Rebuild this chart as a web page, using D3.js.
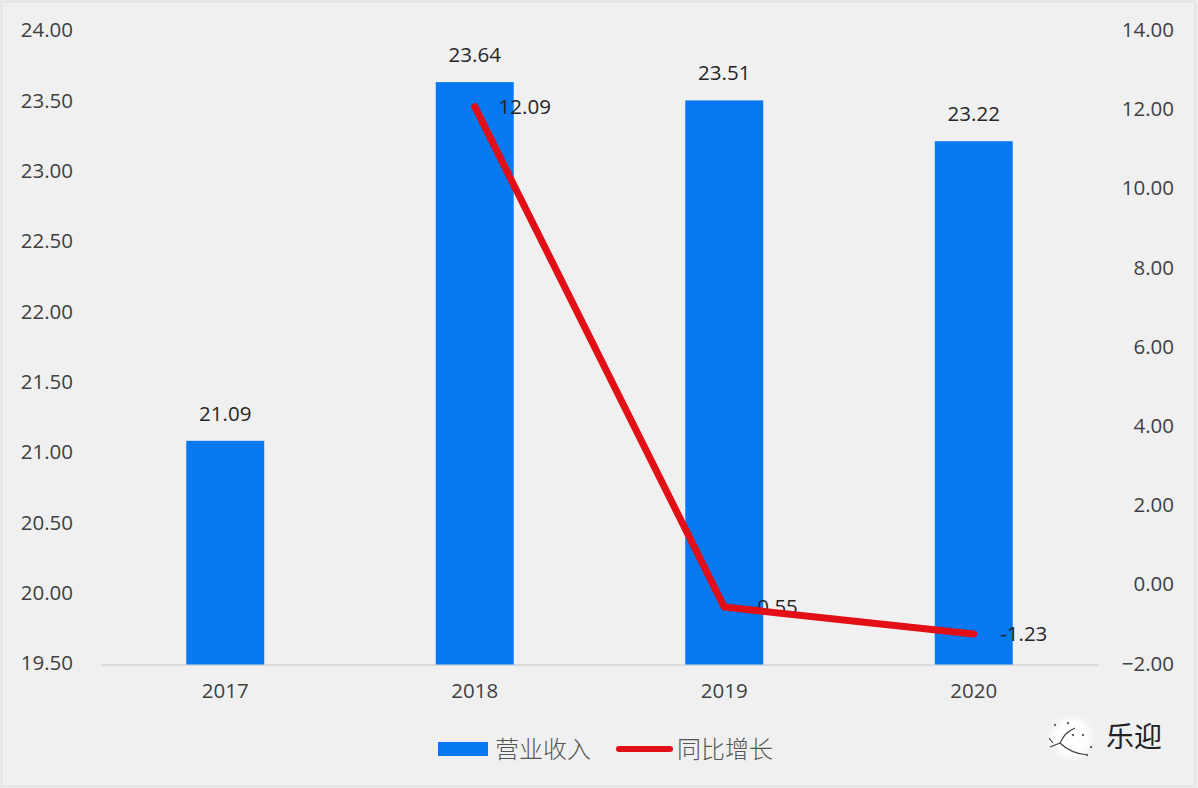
<!DOCTYPE html>
<html><head><meta charset="utf-8">
<script src="https://cdn.jsdelivr.net/npm/d3@7/dist/d3.min.js"></script>
<style>
html,body{margin:0;padding:0;background:#f0f0f1;overflow:hidden}
svg{display:block}
text{font-family:"Open Sans","Noto Sans CJK SC",sans-serif}
</style></head><body>
<svg id="c" width="1198" height="788"></svg>
<script>
const years = ["2017","2018","2019","2020"];
const revenue = [21.09,23.64,23.51,23.22];
const revenueLabels = ["21.09","23.64","23.51","23.22"];
const growth = [null,12.09,-0.55,-1.23];
const growthLabels = ["","12.09","-0.55","-1.23"];
const leftTicks = [19.5,20,20.5,21,21.5,22,22.5,23,23.5,24];
const rightTicks = [-2,0,2,4,6,8,10,12,14];
const legendNames = ["营业收入","同比增长"];
const watermarkText = "乐迎";

const svg = d3.select("#c");
const defs = svg.append("defs");
defs.append("filter").attr("id","soft").append("feGaussianBlur").attr("stdDeviation",3);
svg.append("rect").attr("x",1.5).attr("y",1.5).attr("width",1194).attr("height",785)
  .attr("fill","none").attr("stroke","#e3e3e4").attr("stroke-width",2);
const x = d3.scaleBand().domain(years).range([100.5,1098.5]).paddingInner(0.6876).paddingOuter(0.3438);
const yL = d3.scaleLinear().domain([19.5,24]).range([664.5,31.5]);
const yR = d3.scaleLinear().domain([-2,14]).range([664.5,31]);
const cx = d => x(d)+x.bandwidth()/2;
const blue = "#0678f0", red = "#e20f16";

// left axis
const gL = svg.append("g").attr("transform","translate(73,-1.3)")
  .call(d3.axisLeft(yL).tickValues(leftTicks).tickFormat(d3.format(".2f")).tickSize(0).tickPadding(0));
gL.select(".domain").remove();
// right axis
const gR = svg.append("g").attr("transform","translate(1174,-1)")
  .call(d3.axisLeft(yR).tickValues(rightTicks).tickFormat(d3.format(".2f")).tickSize(0).tickPadding(0));
gR.select(".domain").remove();
// bottom axis
const gB = svg.append("g").attr("transform","translate(0,664.5)")
  .call(d3.axisBottom(x).tickSize(0).tickPadding(19));
gB.select(".domain").attr("stroke","#d2d4d8").attr("stroke-width",1.5);
svg.selectAll("g text").attr("font-size",20.5).attr("fill","#404040")
  .style("font-family",'"Open Sans",sans-serif');

// bars
svg.append("g").selectAll("rect").data(years).join("rect")
  .attr("x",d=>x(d)).attr("width",x.bandwidth())
  .attr("y",(d,i)=>yL(revenue[i])).attr("height",(d,i)=>yL(19.5)-yL(revenue[i]))
  .attr("fill",blue);
svg.append("g").selectAll("text").data(years).join("text")
  .attr("x",cx).attr("y",(d,i)=>yL(revenue[i])-20)
  .attr("text-anchor","middle").attr("font-size",20.5).attr("fill","#262626")
  .text((d,i)=>revenueLabels[i]);

// line labels sit below the line
svg.append("g").selectAll("text").data(years.slice(1)).join("text")
  .attr("x",d=>cx(d)+50).attr("y",(d,i)=>yR(growth[i+1])+7)
  .attr("text-anchor","middle").attr("font-size",20.5).attr("fill","#262626")
  .text((d,i)=>growthLabels[i+1]);

const line = d3.line().defined(d=>d.v!==null).x(d=>cx(d.y)).y(d=>yR(d.v));
svg.append("path").datum(years.map((y,i)=>({y,v:growth[i]})))
  .attr("d",line).attr("fill","none").attr("stroke",red)
  .attr("stroke-width",7).attr("stroke-linejoin","round").attr("stroke-linecap","round");

// legend
const lg = svg.append("g");
lg.append("rect").attr("x",438).attr("y",742).attr("width",50).attr("height",14).attr("fill",blue);
lg.append("line").attr("x1",619).attr("x2",670).attr("y1",749).attr("y2",749)
  .attr("stroke",red).attr("stroke-width",6).attr("stroke-linecap","round");
lg.selectAll("text").data(legendNames).join("text")
  .attr("x",(d,i)=>[495,677][i]).attr("y",758)
  .attr("font-size",24).attr("font-weight",300).attr("fill","#555")
  .style("font-family",'"Noto Sans CJK SC",sans-serif').text(d=>d);

// watermark
const wm = svg.append("g");
wm.append("circle").attr("cx",1071).attr("cy",738).attr("r",20).attr("fill","#ffffff").attr("filter","url(#soft)");
wm.append("path").attr("d","M1050 747 L1060 743 C1063 738 1064 733 1075 728 M1060 743 C1067 750 1075 754 1088 755 M1049 738 L1053 743")
  .attr("fill","none").attr("stroke","#444").attr("stroke-width",1.2);
wm.selectAll("circle.dot").data([[1055,725],[1068,723],[1073,735],[1083,735],[1091,747],[1087,755]]).join("circle")
  .attr("class","dot").attr("cx",d=>d[0]).attr("cy",d=>d[1]).attr("r",1.2).attr("fill","#666");
wm.append("text").attr("x",1106).attr("y",747).attr("font-size",28).attr("fill","#222")
  .style("font-family",'"Noto Sans CJK SC",sans-serif').text(watermarkText);
</script>
</body></html>
